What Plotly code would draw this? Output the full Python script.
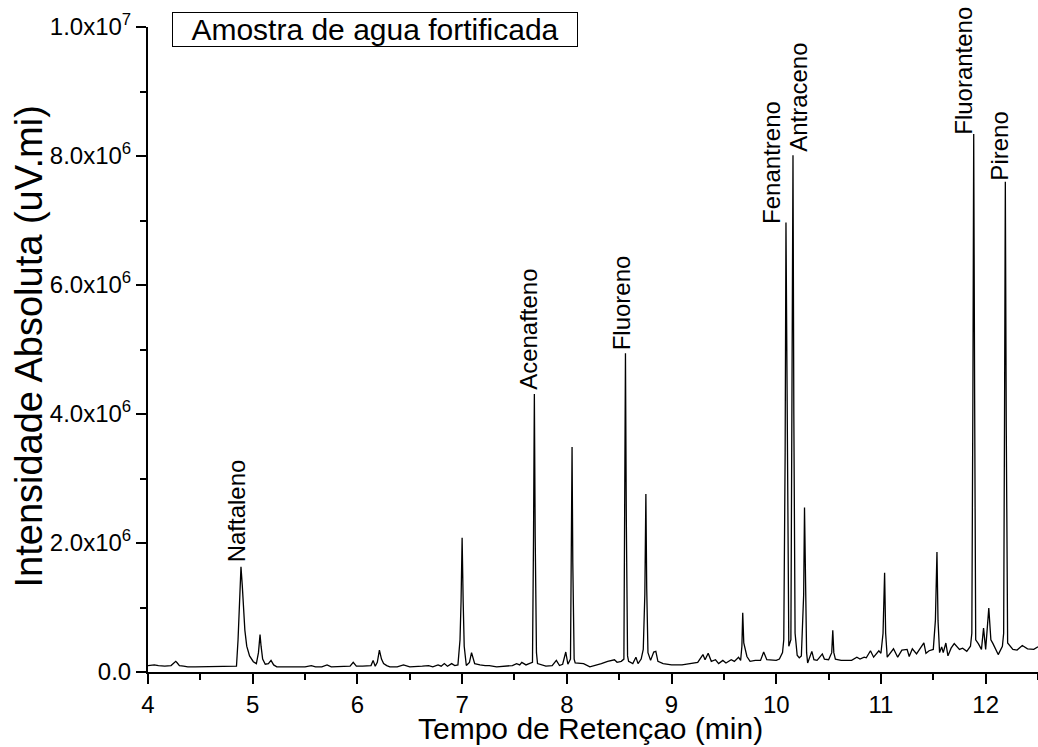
import plotly.graph_objects as go

# ---------------- data ----------------
tempo_min = [
    4.00, 4.03, 4.06, 4.10, 4.16, 4.22, 4.25, 4.265, 4.28, 4.30, 4.34, 4.38, 4.45, 4.55, 4.65, 4.75, 4.83,
    4.845, 4.86, 4.875, 4.888, 4.90, 4.91, 4.925, 4.943, 4.97, 5.006, 5.035, 5.055, 5.07, 5.08, 5.095,
    5.12, 5.15, 5.175, 5.20, 5.23, 5.30, 5.40, 5.50, 5.56, 5.60, 5.66, 5.71, 5.75, 5.82, 5.87, 5.93,
    5.96, 5.99, 6.05, 6.10, 6.13, 6.15, 6.17, 6.19, 6.21, 6.23, 6.25, 6.28, 6.31, 6.38, 6.44, 6.50,
    6.56, 6.62, 6.68, 6.72, 6.77, 6.80, 6.83, 6.86, 6.90, 6.93, 6.96, 6.98, 6.99, 7.00, 7.01, 7.02,
    7.04, 7.07, 7.09, 7.11, 7.12, 7.15, 7.17, 7.22, 7.26, 7.33, 7.38, 7.42, 7.48, 7.52, 7.55, 7.57,
    7.61, 7.64, 7.672, 7.682, 7.69, 7.698, 7.71, 7.72, 7.76, 7.80, 7.86, 7.90, 7.93, 7.96, 7.99, 8.01,
    8.035, 8.043, 8.05, 8.057, 8.07, 8.08, 8.12, 8.16, 8.22, 8.27, 8.33, 8.39, 8.455, 8.48, 8.52,
    8.545, 8.552, 8.56, 8.568, 8.58, 8.59, 8.63, 8.66, 8.68, 8.71, 8.73, 8.745, 8.755, 8.763, 8.775,
    8.80, 8.83, 8.85, 8.87, 8.92, 9.00, 9.10, 9.19, 9.25, 9.30, 9.32, 9.35, 9.38, 9.42, 9.45, 9.49,
    9.52, 9.57, 9.60, 9.64, 9.66, 9.672, 9.68, 9.69, 9.72, 9.75, 9.80, 9.85, 9.88, 9.91, 9.95, 10.00,
    10.03, 10.06, 10.072, 10.085, 10.093, 10.105, 10.12, 10.14, 10.152, 10.16, 10.168, 10.18, 10.20,
    10.22, 10.24, 10.262, 10.27, 10.278, 10.29, 10.30, 10.34, 10.36, 10.39, 10.41, 10.44, 10.46,
    10.50, 10.53, 10.54, 10.55, 10.565, 10.62, 10.72, 10.77, 10.80, 10.84, 10.86, 10.90, 10.93,
    10.98, 11.00, 11.02, 11.035, 11.045, 11.06, 11.12, 11.16, 11.20, 11.25, 11.27, 11.30, 11.34,
    11.37, 11.41, 11.43, 11.46, 11.50, 11.52, 11.535, 11.545, 11.56, 11.58, 11.595, 11.62, 11.64,
    11.67, 11.70, 11.75, 11.78, 11.82, 11.855, 11.868, 11.878, 11.886, 11.895, 11.905, 11.93, 11.96,
    11.98, 12.00, 12.03, 12.05, 12.07, 12.10, 12.12, 12.16, 12.172, 12.18, 12.188, 12.197, 12.21,
    12.26, 12.30, 12.35, 12.40, 12.46, 12.50,
]

intensidade_1e6 = [
    0.10, 0.11, 0.11, 0.10, 0.09, 0.10, 0.14, 0.165, 0.14, 0.10, 0.09, 0.08, 0.08, 0.08, 0.08, 0.08, 0.09,
    0.09, 0.50, 1.30, 1.63, 1.35, 1.00, 0.65, 0.40, 0.25, 0.16, 0.13, 0.30, 0.58, 0.40, 0.20,
    0.12, 0.13, 0.18, 0.11, 0.08, 0.08, 0.08, 0.08, 0.10, 0.08, 0.08, 0.11, 0.08, 0.08, 0.08, 0.09,
    0.15, 0.09, 0.09, 0.09, 0.10, 0.18, 0.09, 0.15, 0.34, 0.20, 0.13, 0.10, 0.08, 0.08, 0.11, 0.08,
    0.08, 0.09, 0.10, 0.08, 0.11, 0.09, 0.13, 0.09, 0.13, 0.10, 0.11, 0.50, 1.10, 2.08, 1.10, 0.40,
    0.10, 0.15, 0.30, 0.15, 0.13, 0.12, 0.11, 0.10, 0.10, 0.08, 0.09, 0.09, 0.10, 0.13, 0.11, 0.15,
    0.11, 0.13, 0.15, 2.10, 4.31, 2.10, 0.30, 0.13, 0.11, 0.09, 0.10, 0.18, 0.10, 0.12, 0.31, 0.12,
    0.20, 1.70, 3.49, 1.70, 0.20, 0.14, 0.13, 0.13, 0.08, 0.10, 0.13, 0.165, 0.19, 0.15, 0.165,
    0.20, 2.40, 4.94, 2.40, 0.25, 0.165, 0.13, 0.23, 0.13, 0.20, 0.35, 1.20, 2.76, 1.30, 0.30,
    0.18, 0.31, 0.32, 0.165, 0.13, 0.11, 0.11, 0.13, 0.15, 0.27, 0.19, 0.29, 0.165, 0.19, 0.13, 0.18,
    0.14, 0.19, 0.165, 0.23, 0.18, 0.40, 0.92, 0.45, 0.24, 0.165, 0.18, 0.18, 0.31, 0.19, 0.19, 0.18,
    0.20, 0.30, 0.50, 3.40, 6.97, 3.40, 0.40, 0.50, 4.00, 8.01, 4.00, 0.60, 0.26,
    0.22, 0.25, 1.20, 2.55, 1.20, 0.30, 0.14, 0.32, 0.19, 0.18, 0.22, 0.28, 0.20,
    0.19, 0.30, 0.645, 0.30, 0.20, 0.18, 0.18, 0.23, 0.20, 0.23, 0.22, 0.33, 0.23,
    0.33, 0.29, 0.60, 1.54, 0.60, 0.23, 0.36, 0.23, 0.34, 0.35, 0.24, 0.36, 0.28,
    0.35, 0.45, 0.29, 0.33, 0.35, 0.80, 1.86, 0.80, 0.30, 0.39, 0.30, 0.45, 0.25,
    0.37, 0.44, 0.35, 0.37, 0.32, 0.40, 0.60, 4.20, 8.34, 4.20, 0.50, 0.44, 0.35,
    0.68, 0.35, 0.99, 0.50, 0.44, 0.32, 0.27, 0.40, 0.60, 3.80, 7.60, 3.80, 0.45,
    0.35, 0.34, 0.41, 0.36, 0.35, 0.39,
]

# peak labels
nomes_picos = ["Naftaleno", "Acenafteno", "Fluoreno", "Fenantreno", "Antraceno", "Fluoranteno", "Pireno"]
tempos_picos = [4.888, 7.69, 8.56, 10.093, 10.16, 11.886, 12.188]
alturas_picos_1e6 = [1.63, 4.31, 4.94, 6.97, 8.01, 8.34, 7.60]

# axis ticks
x_ticks = [4, 5, 6, 7, 8, 9, 10, 11, 12]
y_ticks = [0, 2e6, 4e6, 6e6, 8e6, 1e7]
y_ticktext = ["0.0", "2.0x10<sup>6</sup>", "4.0x10<sup>6</sup>", "6.0x10<sup>6</sup>",
              "8.0x10<sup>6</sup>", "1.0x10<sup>7</sup>"]

titulo_amostra = "Amostra de agua fortificada"
x_titulo = "Tempo de Retençao (min)"
y_titulo = "Intensidade Absoluta (uV.mi)"

# ---------------- figure ----------------
FONT = "Liberation Sans, Arial, Helvetica, sans-serif"
W, H = 1038, 747
ML, MR, MT, MB = 148, 0, 26.5, 74.7

fig = go.Figure()
fig.add_trace(go.Scatter(
    x=tempo_min,
    y=[v * 1e6 for v in intensidade_1e6],
    mode="lines",
    line=dict(color="black", width=1.3),
    hoverinfo="skip",
    showlegend=False,
))

label_xshift = [-5, -6, -4, -14, 6, -11, -6]
label_yshift = [3, 2, 1, -3, 2, -3, -1]
for nome, t, h, dx, dy in zip(nomes_picos, tempos_picos, alturas_picos_1e6, label_xshift, label_yshift):
    fig.add_annotation(
        x=t, y=h * 1e6, xref="x", yref="y",
        text=nome, textangle=-90, showarrow=False,
        xanchor="center", yanchor="bottom",
        xshift=dx, yshift=dy,
        font=dict(family=FONT, size=24, color="black"),
    )

# sample box
fig.add_annotation(
    xref="paper", yref="paper", x=0, y=1,
    xanchor="left", yanchor="top",
    xshift=24, yshift=MT - 11,
    text=titulo_amostra, showarrow=False,
    font=dict(family=FONT, size=30, color="black"),
    bordercolor="black", borderwidth=1, borderpad=0,
    width=404, align="center", bgcolor="white",
)

# axis titles as annotations for precise placement
fig.add_annotation(
    xref="paper", yref="paper", x=0.5, y=0, xanchor="center", yanchor="middle",
    yshift=-56, xshift=-3, text=x_titulo, showarrow=False,
    font=dict(family=FONT, size=30, color="black"),
)
fig.add_annotation(
    xref="paper", yref="paper", x=0, y=0.5, xanchor="center", yanchor="middle",
    xshift=-(ML - 28), yshift=3, text=y_titulo, textangle=-90, showarrow=False,
    font=dict(family=FONT, size=38, color="black"),
)

axis_common = dict(
    showgrid=False, zeroline=False,
    showline=True, linecolor="black", linewidth=2,
    ticks="outside", ticklen=10, tickwidth=2, tickcolor="black",
    tickfont=dict(family=FONT, size=24, color="black"),
)

fig.update_xaxes(
    range=[4, 12.5], tickvals=x_ticks, ticktext=[str(v) for v in x_ticks],
    minor=dict(dtick=0.5, ticks="outside", ticklen=6, tickwidth=2, tickcolor="black", showgrid=False),
    **axis_common,
)
fig.update_yaxes(
    range=[0, 1e7], tickvals=y_ticks, ticktext=y_ticktext,
    minor=dict(dtick=1e6, ticks="outside", ticklen=6, tickwidth=2, tickcolor="black", showgrid=False),
    **axis_common,
)

fig.update_layout(
    width=W, height=H,
    margin=dict(l=ML, r=MR, t=MT, b=MB, pad=0),
    paper_bgcolor="white", plot_bgcolor="white",
    font=dict(family=FONT, color="black"),
)

fig.write_html("out.html")
